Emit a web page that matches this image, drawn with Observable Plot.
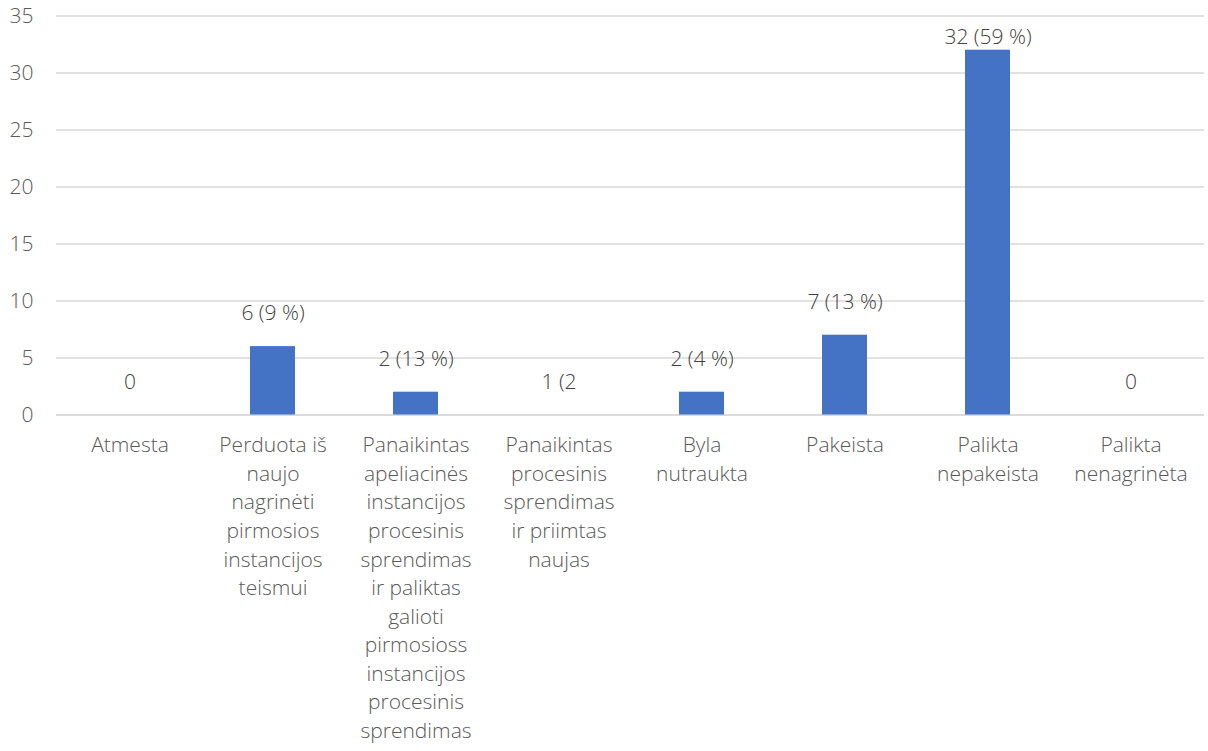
<!DOCTYPE html>
<html>
<head>
<meta charset="utf-8">
<script src="https://cdn.jsdelivr.net/npm/d3@7"></script>
<script src="https://cdn.jsdelivr.net/npm/@observablehq/plot@0.6"></script>
<style>
  html, body { margin: 0; padding: 0; background: #fff; }
</style>
</head>
<body>
<div id="chart"></div>
<script>
const categories = [
  "Atmesta",
  "Perduota iš\nnaujo\nnagrinėti\npirmosios\ninstancijos\nteismui",
  "Panaikintas\napeliacinės\ninstancijos\nprocesinis\nsprendimas\nir paliktas\ngalioti\npirmosioss\ninstancijos\nprocesinis\nsprendimas",
  "Panaikintas\nprocesinis\nsprendimas\nir priimtas\nnaujas",
  "Byla\nnutraukta",
  "Pakeista",
  "Palikta\nnepakeista",
  "Palikta\nnenagrinėta"
];
const barValues = [0, 6, 2, 0, 2, 7, 32, 0];
const valueLabels = ["0", "6 (9 %)", "2 (13 %)", "1 (2", "2 (4 %)", "7 (13 %)", "32 (59 %)", "0"];
const yTicks = [0, 5, 10, 15, 20, 25, 30, 35];

const data = categories.map((c, i) => ({cat: c, value: barValues[i], label: valueLabels[i]}));

const chart = Plot.plot({
  width: 1208,
  height: 751,
  marginLeft: 56,
  marginRight: 4,
  marginTop: 15.5,
  marginBottom: 336.5,
  style: {fontFamily: "'Open Sans', sans-serif", fontSize: "21px", color: "#595959", background: "#fff"},
  x: {domain: categories, paddingInner: 0.686, paddingOuter: 0.343, label: null},
  y: {domain: [0, 35], label: null},
  marks: [
    Plot.gridY(yTicks, {stroke: "#d9d9d9", strokeOpacity: 1, strokeWidth: 1.5}),
    Plot.ruleY([0], {stroke: "#d9d9d9", strokeWidth: 1.5}),
    Plot.barY(data, {x: "cat", y: "value", fill: "#4472C4"}),
    Plot.text(data, {
      x: "cat",
      y: d => Math.min(d.value + 2.9, 33.1),
      text: "label",
      fill: "#404040",
      fontSize: 21,
      fontWeight: 300
    }),
    Plot.axisY({ticks: yTicks, tickSize: 0, tickPadding: 23, fontSize: 21, fontWeight: 300, label: null}),
    Plot.axisX({tickSize: 0, tickPadding: 17, lineAnchor: "top", lineHeight: 1.36, fontSize: 21, fontWeight: 300, label: null})
  ]
});
document.getElementById("chart").appendChild(chart);
</script>
</body>
</html>
